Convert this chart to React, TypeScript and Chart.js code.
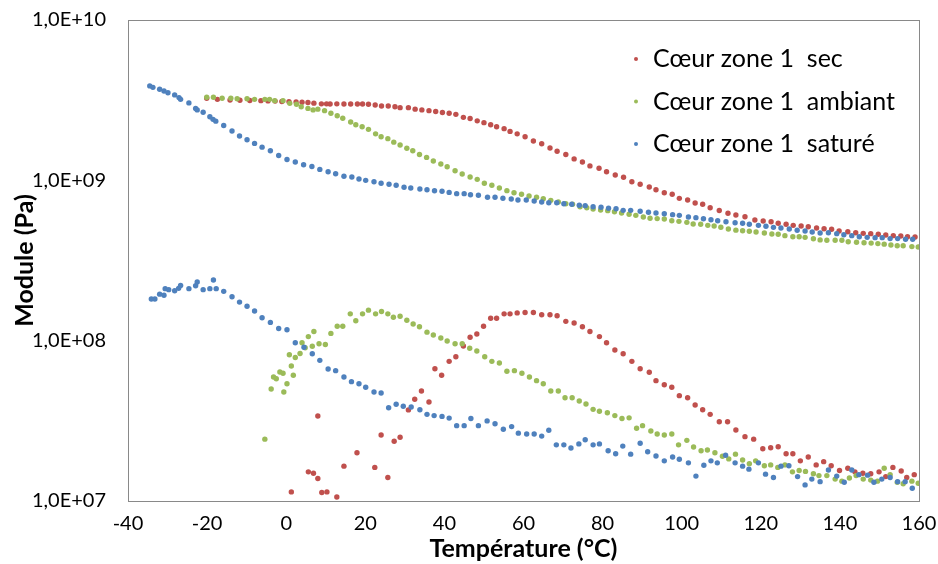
import React, { useEffect, useRef } from "react";
import { Chart, registerables } from "chart.js";

Chart.register(...registerables);

const FONT = "Lato, 'Open Sans', sans-serif";

// ---- legend / styling data ----
const seriesNames = ["Cœur zone 1  sec", "Cœur zone 1  ambiant", "Cœur zone 1  saturé"];
const seriesColors = ["#C0504D", "#9BBB59", "#4F81BD"];

// ---- axes ----
const xTicks = [-40, -20, 0, 20, 40, 60, 80, 100, 120, 140, 160];
const yTicks = [1e7, 1e8, 1e9, 1e10];
const yTickLabels = ["1,0E+07", "1,0E+08", "1,0E+09", "1,0E+10"];

// ---- Cœur zone 1 sec (red) ----
const secStorageT = [-20.1, -17.4, -14.2, -11.7, -9.2, -6.4, -4.6, -2.8, -1.1, 0.7, 2.5, 4.0, 5.5, 7.0, 8.9, 10.2, 11.1, 12.8, 14.6, 16.3, 18.0, 19.3, 20.8, 22.5, 24.1, 25.8, 27.5, 28.8, 30.9, 32.6, 34.3, 36.1, 37.8, 39.5, 41.2, 42.9, 44.8, 46.5, 48.3, 50.0, 51.7, 53.2, 55.1, 56.6, 58.4, 60.4, 62.5, 64.6, 66.7, 68.5, 70.7, 72.8, 74.9, 76.8, 79.1, 81.0, 83.2, 85.3, 87.4, 89.5, 91.8, 93.5, 95.6, 97.6, 99.4, 101.5, 103.4, 105.3, 107.2, 109.5, 111.7, 113.7, 116.0, 118.5, 120.6, 122.6, 124.4, 126.4, 128.2, 130.2, 132.0, 134.1, 136.0, 137.9, 139.8, 142.0, 144.0, 145.9, 147.8, 149.7, 151.6, 153.5, 155.4, 157.1, 159.0];
const secStorage = [3.25e9, 3.20e9, 3.17e9, 3.16e9, 3.15e9, 3.14e9, 3.13e9, 3.12e9, 3.10e9, 3.09e9, 3.08e9, 3.07e9, 3.06e9, 3.03e9, 3.00e9, 3.00e9, 2.99e9, 3.00e9, 2.99e9, 2.99e9, 2.99e9, 2.99e9, 2.98e9, 2.95e9, 2.91e9, 2.91e9, 2.88e9, 2.84e9, 2.84e9, 2.78e9, 2.75e9, 2.72e9, 2.69e9, 2.65e9, 2.62e9, 2.58e9, 2.47e9, 2.43e9, 2.35e9, 2.29e9, 2.22e9, 2.16e9, 2.10e9, 2.02e9, 1.95e9, 1.87e9, 1.76e9, 1.69e9, 1.59e9, 1.52e9, 1.45e9, 1.36e9, 1.30e9, 1.23e9, 1.19e9, 1.13e9, 1.08e9, 1.045e9, 9.80e8, 9.45e8, 9.09e8, 8.74e8, 8.37e8, 8.18e8, 7.72e8, 7.54e8, 7.22e8, 7.09e8, 6.75e8, 6.48e8, 6.23e8, 6.08e8, 5.93e8, 5.66e8, 5.58e8, 5.52e8, 5.40e8, 5.32e8, 5.24e8, 5.19e8, 5.14e8, 5.04e8, 4.99e8, 4.95e8, 4.83e8, 4.78e8, 4.71e8, 4.67e8, 4.65e8, 4.61e8, 4.56e8, 4.52e8, 4.50e8, 4.45e8, 4.43e8];
const secLossT = [1.3, 5.6, 6.9, 8.0, 8.0, 9.0, 10.3, 12.8, 14.6, 17.9, 22.4, 24.0, 25.7, 27.3, 28.8, 30.9, 32.5, 34.2, 36.1, 37.6, 39.3, 41.2, 42.9, 44.8, 46.5, 48.2, 49.9, 51.7, 53.2, 55.1, 56.6, 58.4, 60.4, 62.5, 64.6, 66.7, 68.5, 70.7, 72.8, 74.9, 76.8, 79.2, 81.0, 83.1, 85.2, 87.4, 89.5, 91.8, 93.5, 95.6, 97.5, 99.4, 101.5, 103.4, 105.3, 107.2, 109.5, 111.6, 113.7, 116.0, 118.2, 120.5, 122.5, 124.4, 126.4, 128.1, 130.0, 132.0, 134.0, 135.9, 137.8, 139.9, 142.0, 143.8, 145.8, 147.8, 149.9, 151.6, 153.4, 155.5, 156.9, 158.8];
const secLoss = [1.14e7, 1.52e7, 1.49e7, 3.39e7, 1.38e7, 1.13e7, 1.14e7, 1.06e7, 1.65e7, 2.00e7, 1.62e7, 2.58e7, 1.40e7, 2.36e7, 2.50e7, 3.70e7, 4.31e7, 4.85e7, 4.14e7, 6.68e7, 6.08e7, 7.43e7, 7.94e7, 9.26e7, 1.05e8, 1.10e8, 1.23e8, 1.38e8, 1.38e8, 1.47e8, 1.47e8, 1.49e8, 1.50e8, 1.50e8, 1.45e8, 1.45e8, 1.43e8, 1.32e8, 1.29e8, 1.22e8, 1.14e8, 1.06e8, 9.71e7, 8.75e7, 8.29e7, 7.43e7, 6.68e7, 6.35e7, 5.63e7, 5.31e7, 5.12e7, 4.54e7, 4.41e7, 3.97e7, 3.71e7, 3.47e7, 3.12e7, 3.12e7, 2.77e7, 2.52e7, 2.43e7, 2.12e7, 2.15e7, 2.18e7, 1.97e7, 1.97e7, 1.78e7, 1.88e7, 1.68e7, 1.76e7, 1.66e7, 1.55e7, 1.60e7, 1.52e7, 1.49e7, 1.48e7, 1.52e7, 1.42e7, 1.62e7, 1.54e7, 1.40e7, 1.46e7];

// ---- Cœur zone 1 ambiant (green) ----
const ambStorageT = [-20.1, -18.4, -16.2, -14.0, -12.4, -9.9, -8.0, -5.4, -4.2, -2.9, -0.8, 0.9, 2.6, 3.8, 5.5, 6.8, 8.0, 9.7, 11.3, 12.9, 14.3, 16.3, 17.6, 19.2, 20.8, 22.6, 24.0, 25.7, 27.2, 28.8, 30.5, 32.0, 33.7, 35.5, 37.2, 39.1, 40.7, 42.7, 44.5, 46.5, 48.3, 50.1, 52.0, 53.9, 55.8, 57.6, 59.5, 61.4, 63.3, 65.0, 66.9, 68.8, 70.7, 72.4, 74.3, 76.0, 77.6, 79.5, 81.3, 83.0, 84.8, 86.7, 88.4, 90.3, 92.0, 93.8, 95.6, 97.5, 99.3, 101.3, 102.9, 104.8, 106.6, 108.2, 109.9, 111.8, 113.7, 115.4, 117.1, 118.8, 120.9, 122.8, 124.4, 126.1, 128.1, 129.7, 131.2, 133.3, 135.0, 136.7, 138.8, 140.5, 142.1, 144.2, 146.1, 147.9, 149.6, 151.2, 152.9, 154.5, 156.0, 158.2, 159.8];
const ambStorage = [3.30e9, 3.30e9, 3.25e9, 3.25e9, 3.23e9, 3.23e9, 3.20e9, 3.20e9, 3.20e9, 3.14e9, 3.14e9, 3.02e9, 2.98e9, 2.88e9, 2.81e9, 2.75e9, 2.78e9, 2.72e9, 2.62e9, 2.53e9, 2.44e9, 2.31e9, 2.22e9, 2.16e9, 2.08e9, 1.95e9, 1.87e9, 1.82e9, 1.73e9, 1.66e9, 1.585e9, 1.53e9, 1.45e9, 1.39e9, 1.32e9, 1.265e9, 1.216e9, 1.148e9, 1.095e9, 1.05e9, 1.014e9, 9.58e8, 9.31e8, 8.96e8, 8.62e8, 8.37e8, 8.18e8, 7.98e8, 7.84e8, 7.68e8, 7.50e8, 7.33e8, 7.15e8, 7.09e8, 6.85e8, 6.75e8, 6.62e8, 6.53e8, 6.47e8, 6.37e8, 6.25e8, 6.14e8, 6.05e8, 5.91e8, 5.80e8, 5.77e8, 5.74e8, 5.60e8, 5.55e8, 5.47e8, 5.34e8, 5.32e8, 5.24e8, 5.19e8, 5.10e8, 4.97e8, 4.89e8, 4.85e8, 4.81e8, 4.76e8, 4.69e8, 4.63e8, 4.61e8, 4.52e8, 4.45e8, 4.45e8, 4.41e8, 4.32e8, 4.25e8, 4.23e8, 4.23e8, 4.23e8, 4.14e8, 4.11e8, 4.08e8, 4.06e8, 4.03e8, 4.00e8, 3.95e8, 3.91e8, 3.91e8, 3.86e8, 3.84e8];
const ambLossT = [-5.4, -3.8, -3.2, -2.5, -1.6, -0.8, -0.6, 0.2, 0.8, 1.3, 1.8, 2.3, 3.5, 4.0, 4.8, 5.6, 6.6, 7.0, 8.3, 9.9, 11.3, 12.9, 14.3, 16.2, 17.6, 19.3, 20.8, 22.6, 24.1, 25.7, 27.1, 28.8, 30.5, 32.1, 33.7, 35.6, 37.2, 39.1, 40.7, 42.7, 44.5, 46.4, 48.2, 50.2, 52.0, 53.9, 55.8, 57.7, 59.6, 61.5, 63.3, 65.0, 66.9, 68.8, 70.5, 72.3, 74.1, 75.8, 77.6, 79.2, 81.2, 83.1, 84.9, 86.7, 88.6, 90.1, 92.2, 93.8, 95.6, 97.5, 99.2, 101.3, 103.0, 104.9, 106.5, 108.4, 110.3, 111.9, 113.6, 115.4, 117.1, 118.7, 120.9, 122.5, 124.3, 126.1, 128.0, 129.7, 131.3, 133.3, 134.7, 136.7, 138.8, 140.5, 142.4, 144.1, 145.9, 147.8, 149.5, 151.2, 152.7, 154.5, 156.0, 158.2, 159.8];
const ambLoss = [2.43e7, 5.00e7, 5.93e7, 5.79e7, 6.38e7, 6.26e7, 4.78e7, 5.39e7, 8.17e7, 6.95e7, 6.09e7, 7.85e7, 8.31e7, 9.71e7, 9.04e7, 1.06e8, 9.22e7, 1.14e8, 9.57e7, 9.46e7, 1.11e8, 1.23e8, 1.23e8, 1.47e8, 1.33e8, 1.47e8, 1.55e8, 1.47e8, 1.52e8, 1.47e8, 1.40e8, 1.42e8, 1.34e8, 1.27e8, 1.22e8, 1.13e8, 1.085e8, 1.04e8, 9.95e7, 9.57e7, 9.57e7, 8.96e7, 8.62e7, 7.94e7, 7.43e7, 7.25e7, 6.44e7, 6.50e7, 6.26e7, 5.93e7, 5.63e7, 5.39e7, 4.85e7, 4.85e7, 4.41e7, 4.41e7, 4.20e7, 4.03e7, 3.73e7, 3.63e7, 3.55e7, 3.41e7, 3.27e7, 3.30e7, 2.84e7, 2.95e7, 2.73e7, 2.62e7, 2.58e7, 2.62e7, 2.24e7, 2.39e7, 2.17e7, 2.06e7, 2.08e7, 2.00e7, 1.90e7, 1.83e7, 1.96e7, 1.80e7, 1.71e7, 1.78e7, 1.66e7, 1.68e7, 1.62e7, 1.68e7, 1.52e7, 1.55e7, 1.53e7, 1.48e7, 1.44e7, 1.44e7, 1.37e7, 1.33e7, 1.39e7, 1.44e7, 1.37e7, 1.35e7, 1.33e7, 1.60e7, 1.46e7, 1.31e7, 1.28e7, 1.33e7, 1.29e7];

// ---- Cœur zone 1 saturé (blue) ----
const satStorageT = [-34.5, -33.7, -32.0, -30.9, -29.9, -28.2, -27.1, -26.7, -24.6, -22.9, -22.5, -21.0, -19.3, -18.5, -17.8, -15.8, -13.7, -11.8, -9.9, -8.0, -6.1, -4.0, -1.9, 0.2, 2.3, 4.4, 6.5, 8.5, 10.6, 12.5, 14.6, 16.6, 18.4, 20.1, 22.2, 24.0, 26.0, 27.8, 29.8, 31.5, 33.8, 35.6, 37.5, 39.4, 41.2, 43.1, 45.0, 46.6, 48.6, 50.9, 52.8, 54.8, 56.9, 58.6, 60.7, 62.7, 64.6, 66.4, 68.4, 70.2, 72.2, 74.1, 75.6, 77.6, 79.6, 81.5, 83.4, 85.2, 87.1, 89.5, 91.6, 93.5, 95.6, 97.7, 99.4, 101.7, 103.6, 105.5, 107.4, 109.1, 111.2, 113.5, 115.4, 117.1, 119.4, 121.3, 123.2, 125.1, 127.2, 129.2, 131.2, 133.0, 135.0, 137.1, 139.2, 141.0, 143.0, 144.9, 146.9, 148.9, 150.7, 152.7, 154.6, 156.6, 158.4];
const satStorage = [3.88e9, 3.80e9, 3.70e9, 3.61e9, 3.52e9, 3.41e9, 3.28e9, 3.20e9, 3.04e9, 2.81e9, 2.75e9, 2.66e9, 2.49e9, 2.40e9, 2.34e9, 2.20e9, 2.03e9, 1.89e9, 1.79e9, 1.70e9, 1.61e9, 1.53e9, 1.43e9, 1.35e9, 1.30e9, 1.25e9, 1.22e9, 1.17e9, 1.13e9, 1.10e9, 1.06e9, 1.05e9, 1.02e9, 1.00e9, 9.80e8, 9.58e8, 9.45e8, 9.31e8, 9.05e8, 8.96e8, 8.83e8, 8.74e8, 8.61e8, 8.55e8, 8.41e8, 8.26e8, 8.26e8, 8.13e8, 8.07e8, 7.84e8, 7.84e8, 7.73e8, 7.65e8, 7.54e8, 7.54e8, 7.43e8, 7.33e8, 7.25e8, 7.25e8, 7.15e8, 7.09e8, 6.99e8, 6.95e8, 6.85e8, 6.79e8, 6.69e8, 6.65e8, 6.50e8, 6.50e8, 6.41e8, 6.32e8, 6.26e8, 6.19e8, 6.11e8, 6.05e8, 5.90e8, 5.85e8, 5.76e8, 5.68e8, 5.60e8, 5.52e8, 5.44e8, 5.40e8, 5.32e8, 5.24e8, 5.17e8, 5.09e8, 5.04e8, 4.97e8, 4.88e8, 4.83e8, 4.76e8, 4.69e8, 4.71e8, 4.65e8, 4.58e8, 4.52e8, 4.45e8, 4.41e8, 4.39e8, 4.39e8, 4.33e8, 4.33e8, 4.29e8, 4.29e8];
const satLossT = [-34.1, -33.2, -32.0, -30.9, -30.6, -29.7, -28.2, -27.2, -26.7, -24.6, -22.9, -22.5, -21.0, -19.3, -18.4, -17.7, -15.8, -13.7, -11.8, -9.9, -8.0, -6.1, -4.0, -1.9, 0.2, 2.3, 4.5, 6.6, 8.5, 10.6, 12.5, 14.6, 16.5, 18.4, 20.1, 22.2, 24.0, 25.9, 27.8, 29.6, 31.6, 33.8, 35.6, 37.4, 39.4, 41.2, 43.1, 45.0, 46.7, 48.6, 50.8, 52.8, 54.9, 57.0, 58.7, 60.8, 62.7, 64.6, 66.4, 68.3, 70.2, 72.0, 74.0, 75.6, 77.6, 79.2, 81.4, 83.3, 85.1, 87.1, 89.5, 91.4, 93.5, 95.6, 97.7, 99.4, 101.7, 103.6, 105.6, 107.4, 109.0, 111.1, 113.5, 115.4, 117.0, 119.4, 121.2, 123.2, 125.1, 127.1, 129.3, 131.2, 132.9, 135.0, 137.1, 139.2, 141.1, 143.0, 144.8, 147.0, 148.6, 150.6, 152.7, 154.6, 156.5, 158.3];
const satLoss = [1.82e8, 1.82e8, 1.95e8, 1.92e8, 2.11e8, 2.08e8, 2.05e8, 2.12e8, 2.21e8, 2.11e8, 2.20e8, 2.32e8, 2.08e8, 2.11e8, 2.39e8, 2.11e8, 2.03e8, 1.88e8, 1.74e8, 1.64e8, 1.53e8, 1.39e8, 1.30e8, 1.19e8, 1.17e8, 9.71e7, 9.09e7, 8.29e7, 7.54e7, 6.66e7, 6.50e7, 5.93e7, 5.55e7, 5.39e7, 5.12e7, 4.78e7, 4.72e7, 3.82e7, 4.01e7, 3.90e7, 3.86e7, 3.71e7, 3.47e7, 3.41e7, 3.37e7, 3.29e7, 2.95e7, 2.95e7, 3.27e7, 2.95e7, 3.16e7, 3.03e7, 2.80e7, 2.91e7, 2.65e7, 2.62e7, 2.62e7, 2.54e7, 2.76e7, 2.24e7, 2.24e7, 2.14e7, 2.27e7, 2.41e7, 2.24e7, 2.27e7, 2.06e7, 1.97e7, 2.20e7, 1.96e7, 2.29e7, 2.03e7, 1.91e7, 1.78e7, 1.88e7, 1.82e7, 1.73e7, 1.43e7, 1.67e7, 1.78e7, 1.73e7, 1.93e7, 1.73e7, 1.65e7, 1.58e7, 1.73e7, 1.47e7, 1.40e7, 1.65e7, 1.66e7, 1.42e7, 1.26e7, 1.37e7, 1.32e7, 1.56e7, 1.43e7, 1.31e7, 1.56e7, 1.46e7, 1.45e7, 1.31e7, 1.37e7, 1.40e7, 1.32e7, 1.32e7, 1.20e7];

const zip = (xs: number[], ys: number[]) => xs.map((x, i) => ({ x, y: ys[i] }));

const frameAndLegend = {
  id: "frameAndLegend",
  beforeDatasetsDraw(chart: any) {
    const { ctx, chartArea } = chart;
    ctx.save();
    ctx.strokeStyle = "#898989";
    ctx.lineWidth = 1;
    ctx.strokeRect(
      Math.round(chartArea.left) + 0.5,
      Math.round(chartArea.top) + 0.5,
      Math.round(chartArea.right - chartArea.left),
      Math.round(chartArea.bottom - chartArea.top)
    );
    ctx.restore();
  },
  afterDraw(chart: any) {
    const { ctx, chartArea } = chart;
    ctx.save();
    ctx.font = `25px ${FONT}`;
    ctx.textBaseline = "middle";
    ctx.textAlign = "left";
    seriesNames.forEach((name, i) => {
      const y = chartArea.top + 39 + i * 42.5;
      const mx = chartArea.left + 508;
      ctx.fillStyle = seriesColors[i];
      ctx.beginPath();
      ctx.arc(mx, y, 2, 0, Math.PI * 2);
      ctx.fill();
      ctx.fillStyle = "#000";
      ctx.fillText(name, chartArea.left + 525, y);
    });
    ctx.restore();
  },
};

export default function App() {
  const ref = useRef<HTMLCanvasElement | null>(null);

  useEffect(() => {
    if (!ref.current) return;
    const mk = (label: string, data: { x: number; y: number }[], color: string) => ({
      label,
      data,
      backgroundColor: color,
      borderColor: color,
      pointRadius: 2.7,
      pointBorderWidth: 0,
      pointHoverRadius: 2.7,
      showLine: false,
    });
    const chart = new Chart(ref.current, {
      type: "scatter",
      data: {
        datasets: [
          mk(seriesNames[2], zip(satStorageT, satStorage), seriesColors[2]),
          mk(seriesNames[2], zip(satLossT, satLoss), seriesColors[2]),
          mk(seriesNames[1], zip(ambStorageT, ambStorage), seriesColors[1]),
          mk(seriesNames[1], zip(ambLossT, ambLoss), seriesColors[1]),
          mk(seriesNames[0], zip(secStorageT, secStorage), seriesColors[0]),
          mk(seriesNames[0], zip(secLossT, secLoss), seriesColors[0]),
        ],
      },
      options: {
        animation: false,
        responsive: false,
        events: [],
        layout: { padding: { left: 0, top: 20, right: 19, bottom: 0 } },
        plugins: { legend: { display: false }, tooltip: { enabled: false } },
        scales: {
          x: {
            type: "linear",
            min: -40,
            max: 160,
            afterBuildTicks: (s: any) => {
              s.ticks = xTicks.map((v) => ({ value: v }));
            },
            afterFit: (s: any) => {
              s.height = 63;
            },
            ticks: {
              autoSkip: false,
              maxRotation: 0,
              padding: 0,
              color: "#000",
              font: { family: FONT, size: 20 },
              callback: (v: any) => String(v),
            },
            grid: { display: false, drawTicks: true, tickLength: 11 },
            border: { display: false },
            title: {
              display: true,
              text: "Température (°C)",
              color: "#000",
              font: { family: FONT, size: 25, weight: "bold" },
              padding: { top: 0, bottom: 0 },
            },
          },
          y: {
            type: "logarithmic",
            min: 1e7,
            max: 1e10,
            afterBuildTicks: (s: any) => {
              s.ticks = yTicks.map((v) => ({ value: v }));
            },
            afterFit: (s: any) => {
              s.width = 128;
            },
            ticks: {
              autoSkip: false,
              padding: 0,
              color: "#000",
              font: { family: FONT, size: 20 },
              callback: (v: any) => yTickLabels[Math.round(Math.log10(Number(v))) - 7] ?? "",
            },
            grid: { display: false, drawTicks: true, tickLength: 22 },
            border: { display: false },
            title: {
              display: true,
              text: "Module (Pa)",
              color: "#000",
              font: { family: FONT, size: 25, weight: "bold" },
              padding: { top: 10, bottom: 0 },
            },
          },
        },
      },
      plugins: [frameAndLegend],
    } as any);
    return () => chart.destroy();
  }, []);

  return (
    <div style={{ position: "fixed", left: 0, top: 0, width: 938, height: 564, background: "#fff" }}>
      <canvas ref={ref} width={938} height={564} style={{ display: "block" }} />
    </div>
  );
}
